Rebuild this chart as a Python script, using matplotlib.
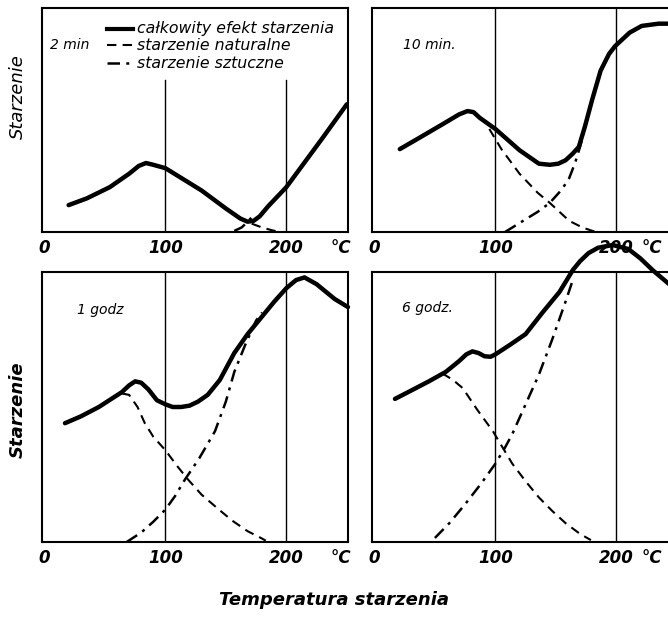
import matplotlib
matplotlib.use("Agg")
import matplotlib.pyplot as plt

# aging curves: x = temperature (degC), y = % of panel height
min2_total_x = [20, 35, 54, 70, 78, 84, 90, 100, 130, 150, 162, 168, 173, 178, 185, 200, 215, 230, 250]
min2_total_y = [12, 15, 20, 26, 29.5, 30.8, 30, 28.5, 18.5, 10.5, 6, 4.6, 5, 7, 11.5, 20, 31, 42, 57]
min2_nat_x = [160, 170, 180, 188, 195]
min2_nat_y = [7, 4, 2, 0.8, 0]
min2_art_x = [157, 163, 168, 172]
min2_art_y = [0.5, 2, 4.5, 7]

min10_total_x = [21, 37, 56, 70, 77, 82, 87, 100, 120, 136, 145, 152, 158, 164, 169, 174, 180, 187, 194, 199, 211, 221, 235, 250]
min10_total_y = [37, 42, 48, 52.5, 54, 53.5, 51, 46, 36.5, 30.5, 30, 30.5, 32, 35, 38, 47, 59, 72, 79.5, 83, 89, 92, 93, 93]
min10_nat_x = [95, 105, 120, 135, 145, 161, 172, 183]
min10_nat_y = [46, 37, 26, 17.5, 13, 5, 2, 0]
min10_art_x = [108, 120, 135, 145, 155, 161, 166, 170, 173]
min10_art_y = [0, 4, 9, 13, 19, 24, 31, 38, 44]

h1_total_x = [17, 30, 45, 64, 70, 75, 80, 86, 93, 100, 106, 113, 120, 127, 135, 145, 157, 168, 179, 190, 200, 208, 215, 225, 240, 251]
h1_total_y = [44, 46.5, 50, 55.5, 58, 59.5, 59, 56.5, 52.5, 51, 50, 50, 50.5, 52, 54.5, 60, 70, 77, 83, 89, 94, 97, 98, 95.5, 90, 87]
h1_nat_x = [64, 70, 77, 83, 90, 100, 110, 119, 130, 143, 155, 168, 179, 183]
h1_nat_y = [55, 54.5, 50, 44, 39, 34, 28, 23, 17.5, 12.5, 8, 4, 1.5, 0.5]
h1_art_x = [68, 80, 90, 100, 108, 116, 128, 141, 150, 157, 166, 175, 180]
h1_art_y = [0, 3.5, 7.5, 12, 17, 23, 31, 41, 52, 63, 73, 82, 85]

h6_total_x = [17, 30, 45, 59, 70, 76, 81, 86, 91, 96, 100, 112, 125, 139, 153, 159, 164, 170, 177, 185, 197, 210, 220, 230, 245]
h6_total_y = [53, 56, 59.5, 63, 67, 69.5, 70.6, 70, 68.8, 68.6, 69.5, 73, 77, 85, 92.6, 97, 100.7, 104, 107, 109, 110, 108.5, 105, 100.7, 95]
h6_nat_x = [56, 65, 73, 85, 98, 106, 114, 125, 136, 147, 158, 170, 179]
h6_nat_y = [62.5, 60, 57, 49, 41, 35, 29, 22.5, 16.5, 11.5, 7, 3, 0.7]
h6_art_x = [50, 62, 75, 88, 100, 108, 114, 125, 136, 147, 158, 164]
h6_art_y = [1.5, 7, 14, 21.5, 29, 35, 40, 51, 62, 75, 89, 97]

tick_pos_left = [0, 100, 200, 245]
tick_pos_right = [0, 100, 200, 229]
tick_labels = ["0", "100", "200", "°C"]
legend_labels = ["całkowity efekt starzenia", "starzenie naturalne", "starzenie sztuczne"]
ylabel = "Starzenie"
xlabel = "Temperatura starzenia"

panels = [
    ("2 min", min2_total_x, min2_total_y, min2_nat_x, min2_nat_y, min2_art_x, min2_art_y),
    ("10 min.", min10_total_x, min10_total_y, min10_nat_x, min10_nat_y, min10_art_x, min10_art_y),
    ("1 godz", h1_total_x, h1_total_y, h1_nat_x, h1_nat_y, h1_art_x, h1_art_y),
    ("6 godz.", h6_total_x, h6_total_y, h6_nat_x, h6_nat_y, h6_art_x, h6_art_y),
]

W, H = 668, 620
fig = plt.figure(figsize=(W / 100, H / 100), dpi=100)

# axes boxes in pixels (left, top, right, bottom); right column runs past the page edge
boxes = [(42, 8, 348, 232), (372, 8, 678, 232), (42, 272, 348, 542), (372, 272, 678, 542)]
# where to put panel names, in pixels
name_xy = [(50, 45), (403, 45), (77, 310), (402, 308)]

txt_font = ["DejaVu Sans"]
dash = (0, (4.5, 3))
dashdot = (0, (5, 2.5, 1.2, 2.5))

for i, (name, tx, ty, nx, ny, ax_, ay) in enumerate(panels):
    l, t, r, b = boxes[i]
    ax = fig.add_axes([l / W, 1 - b / H, (r - l) / W, (b - t) / H])
    ax.set_xlim(-2, 251)
    ax.set_ylim(0, 100)
    for s in ax.spines.values():
        s.set_linewidth(1.5)
    # vertical guide lines; in the first panel they stop below the legend
    top = 0.68 if i == 0 else 1.0
    for xv in (100, 200):
        ax.axvline(xv, ymin=0, ymax=top, color="black", lw=1.0)
    ax.plot(nx, ny, color="black", lw=1.5, linestyle=dash, clip_on=False)
    ax.plot(ax_, ay, color="black", lw=1.8, linestyle=dashdot, clip_on=False)
    ax.plot(tx, ty, color="black", lw=3.2, solid_capstyle="round", solid_joinstyle="round",
            clip_on=False)
    ax.set_yticks([])
    ax.set_xticks(tick_pos_left if i % 2 == 0 else tick_pos_right)
    ax.set_xticklabels(tick_labels, fontsize=12, fontweight="bold", style="italic", family=txt_font)
    ax.tick_params(axis="x", length=0, pad=5)
    fig.text(name_xy[i][0] / W, 1 - name_xy[i][1] / H, name, fontsize=10, style="italic",
             family=txt_font, va="center", ha="left")

# legend drawn by hand in the first panel
leg_styles = [("-", 3.0), (dash, 1.5), (dashdot, 1.8)]
leg_y = [29, 45, 63]
for (ls, lw), lab, yy in zip(leg_styles, legend_labels, leg_y):
    yf = 1 - yy / H
    fig.add_artist(plt.Line2D([107 / W, 133 / W], [yf, yf], color="black", lw=lw, linestyle=ls))
    fig.text(137 / W, yf, lab, fontsize=11.3, style="italic", family=txt_font, va="center", ha="left")

fig.text(18 / W, 1 - 97 / H, ylabel, rotation=90, fontsize=13, style="italic",
         family=txt_font, va="center", ha="center")
fig.text(18 / W, 1 - 410 / H, ylabel, rotation=90, fontsize=13, style="italic", fontweight="bold",
         family=txt_font, va="center", ha="center")
fig.text(334 / W, 1 - 600 / H, xlabel, fontsize=13, style="italic", fontweight="bold",
         family=txt_font, va="center", ha="center")

fig.savefig("out.png", dpi=100)
